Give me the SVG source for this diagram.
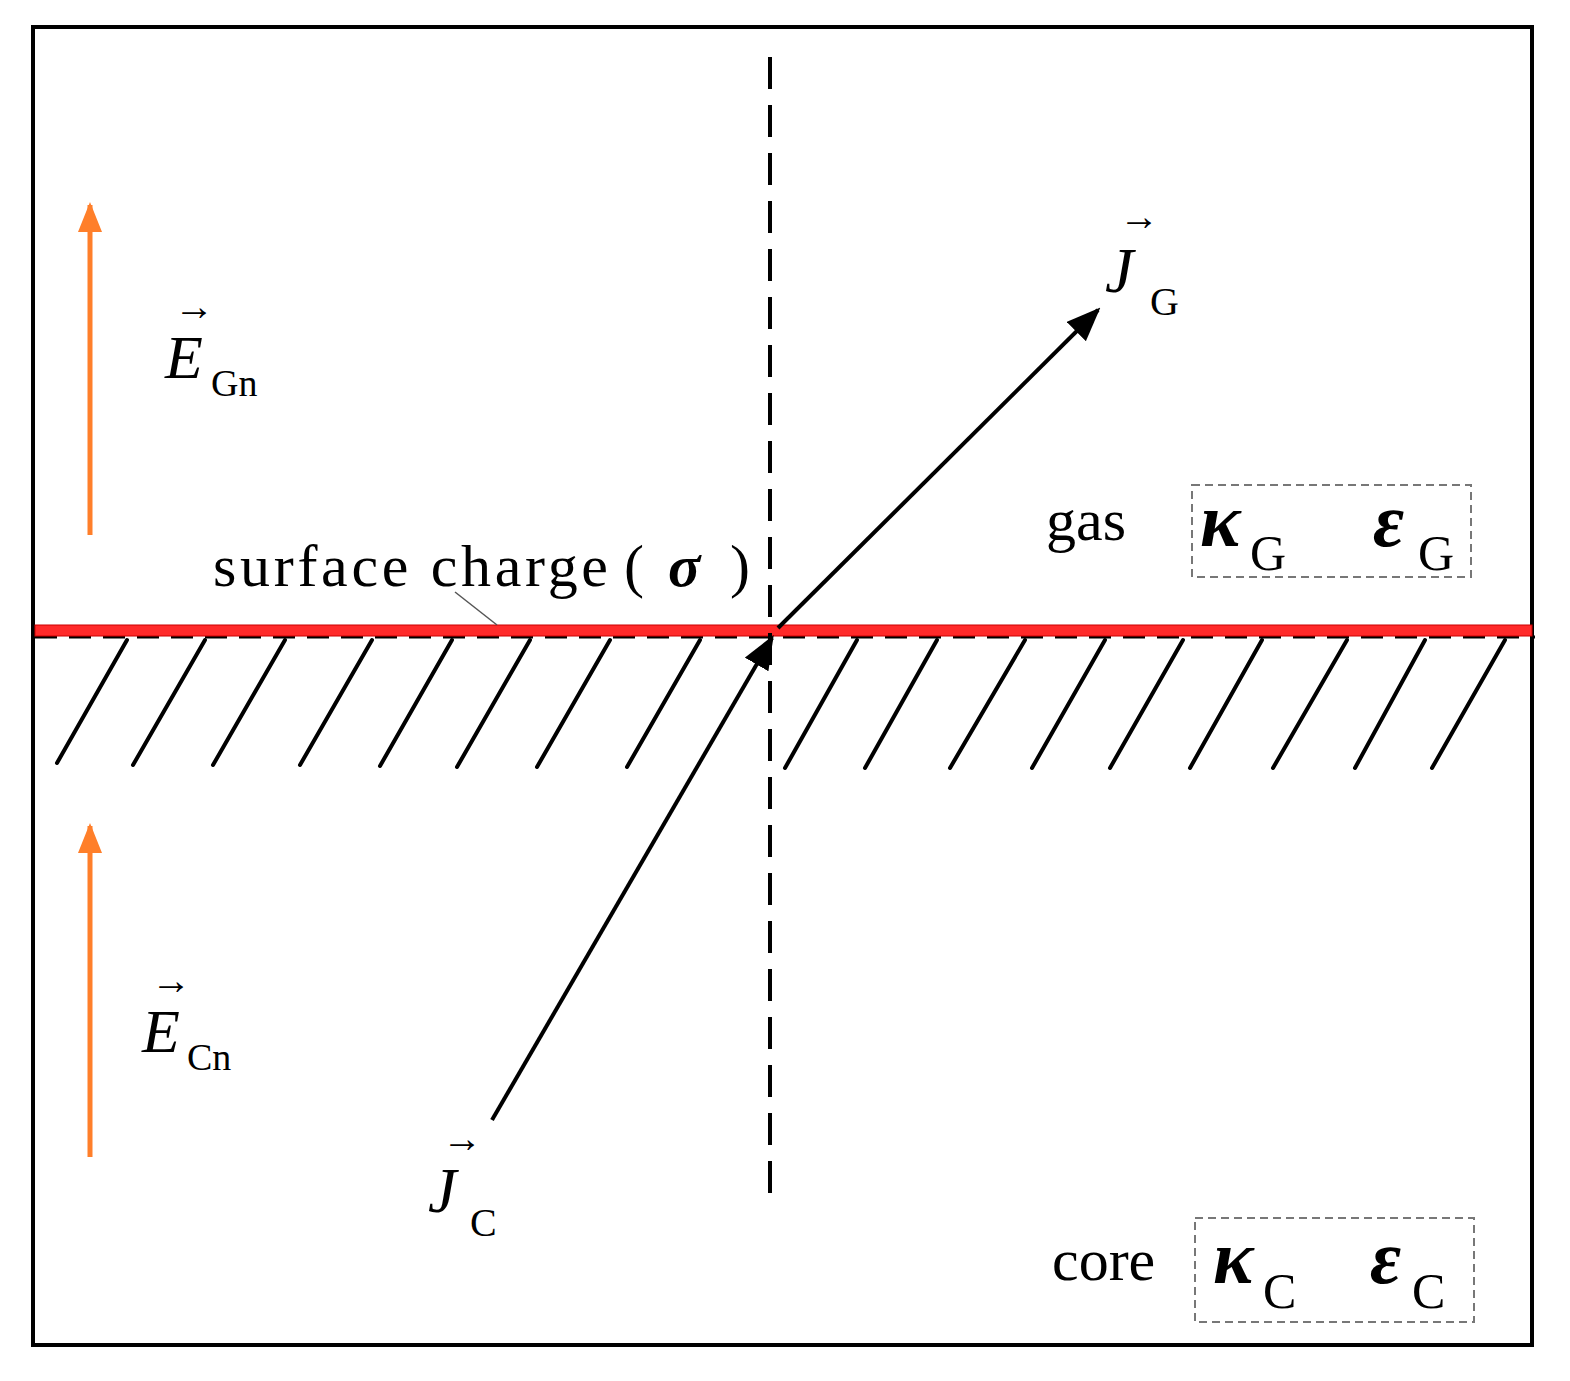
<svg xmlns="http://www.w3.org/2000/svg" width="1570" height="1381" viewBox="0 0 1570 1381">
<style>
.t{font-family:"Liberation Serif",serif;fill:#000}
.i{font-style:italic}
.g{font-style:italic;font-weight:bold}
.h{stroke:#000;stroke-width:4;stroke-linecap:round}
.box{fill:none;stroke:#777;stroke-width:2;stroke-dasharray:8,5}
</style>
<defs>
<marker id="ao" viewBox="0 0 10 8" refX="9" refY="4" markerWidth="30" markerHeight="28" orient="auto" markerUnits="userSpaceOnUse"><path d="M0,0L10,4L0,8z" fill="#FF7F2A"/></marker>
<marker id="ak" viewBox="0 0 10 8" refX="9" refY="4" markerWidth="34" markerHeight="28" orient="auto" markerUnits="userSpaceOnUse"><path d="M0,0L10,4L0,8z" fill="#000"/></marker>
</defs>
<rect width="1570" height="1381" fill="#fff"/>
<rect x="33" y="27" width="1499" height="1318" fill="none" stroke="#000" stroke-width="4"/>
<g id="hatch">
<line class="h" x1="127" y1="640" x2="57" y2="763"/>
<line class="h" x1="205" y1="640" x2="133" y2="765"/>
<line class="h" x1="285" y1="640" x2="213" y2="765"/>
<line class="h" x1="372" y1="640" x2="300" y2="765"/>
<line class="h" x1="452" y1="640" x2="380" y2="766"/>
<line class="h" x1="530" y1="640" x2="457" y2="767"/>
<line class="h" x1="610" y1="640" x2="537" y2="767"/>
<line class="h" x1="700" y1="640" x2="627" y2="767"/>
<line class="h" x1="857" y1="640" x2="785" y2="768"/>
<line class="h" x1="937" y1="640" x2="865" y2="768"/>
<line class="h" x1="1025" y1="640" x2="950" y2="768"/>
<line class="h" x1="1105" y1="640" x2="1032" y2="768"/>
<line class="h" x1="1183" y1="640" x2="1110" y2="768"/>
<line class="h" x1="1262" y1="640" x2="1190" y2="768"/>
<line class="h" x1="1347" y1="640" x2="1273" y2="768"/>
<line class="h" x1="1425" y1="640" x2="1355" y2="768"/>
<line class="h" x1="1505" y1="640" x2="1432" y2="768"/>
</g>
<g id="interface">
<line x1="35" y1="637" x2="1535" y2="637" stroke="#000" stroke-width="3" stroke-dasharray="22,12"/>
<rect x="35" y="625" width="1497" height="11" fill="#FF2A2A" stroke="#C00" stroke-width="1"/>
</g>
<g id="connectors">
<line x1="770" y1="57" x2="770" y2="1202" stroke="#000" stroke-width="4" stroke-dasharray="32,16"/>
<line x1="778" y1="628" x2="1098" y2="310" stroke="#000" stroke-width="4" marker-end="url(#ak)"/>
<line x1="492" y1="1120" x2="772" y2="638" stroke="#000" stroke-width="4" marker-end="url(#ak)"/>
<line x1="90" y1="535" x2="90" y2="205" stroke="#FF7F2A" stroke-width="5" marker-end="url(#ao)"/>
<line x1="90" y1="1157" x2="90" y2="826" stroke="#FF7F2A" stroke-width="5" marker-end="url(#ao)"/>
<line x1="455" y1="592" x2="497" y2="625" stroke="#555" stroke-width="1.5"/>
</g>
<g id="labels">
<text class="t i" x="165" y="378" font-size="62">E</text><text class="t" x="174" y="320" font-size="40">→</text><text class="t" x="211" y="396" font-size="38">Gn</text>
<text class="t i" x="142" y="1052" font-size="62">E</text><text class="t" x="151" y="994" font-size="40">→</text><text class="t" x="187" y="1070" font-size="38">Cn</text>
<text class="t i" x="1105" y="292" font-size="64">J</text><text class="t" x="1119" y="230" font-size="40">→</text><text class="t" x="1150" y="315" font-size="40">G</text>
<text class="t i" x="428" y="1212" font-size="64">J</text><text class="t" x="442" y="1152" font-size="40">→</text><text class="t" x="470" y="1236" font-size="40">C</text>
<text class="t" x="213" y="586" font-size="60" textLength="395">surface charge</text>
<text class="t" x="624" y="586" font-size="60">(</text>
<text class="t g" x="668" y="586" font-size="60">σ</text>
<text class="t" x="730" y="586" font-size="60">)</text>
<text class="t" x="1046" y="540" font-size="60">gas</text>
<text class="t" x="1052" y="1280" font-size="60">core</text>
</g>
<g id="gasbox">
<rect class="box" x="1192" y="485" width="279" height="92"/>
<text class="t g" x="1200" y="546" font-size="76">κ</text><text class="t" x="1250" y="570" font-size="50">G</text>
<text class="t g" x="1373" y="546" font-size="76">ε</text><text class="t" x="1418" y="570" font-size="50">G</text>
</g>
<g id="corebox">
<rect class="box" x="1195" y="1218" width="279" height="104"/>
<text class="t g" x="1213" y="1283" font-size="76">κ</text><text class="t" x="1263" y="1308" font-size="50">C</text>
<text class="t g" x="1370" y="1283" font-size="76">ε</text><text class="t" x="1412" y="1308" font-size="50">C</text>
</g>
</svg>
